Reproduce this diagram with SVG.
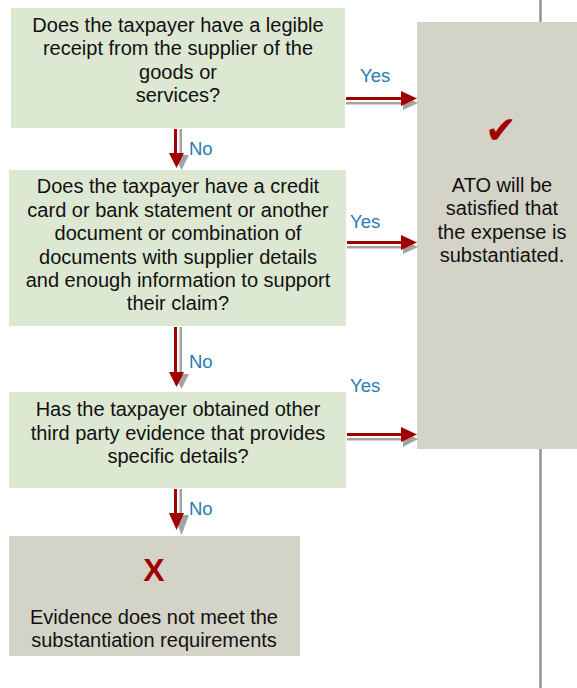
<svg xmlns="http://www.w3.org/2000/svg" width="577" height="688" viewBox="0 0 577 688">
<style>
.q{fill:#dde8d2}
.g{fill:#d4d3c7}
.t{font-family:"Liberation Sans",Arial,sans-serif;font-size:20px;fill:#111;text-anchor:middle}
.l{font-family:"Liberation Sans",Arial,sans-serif;font-size:18.5px;fill:#2b7bb3}
.red{fill:#a00000}
.sh{fill:#a3a3a3}
</style>
<rect x="0" y="0" width="577" height="688" fill="#fff"/>
<g id="divider">
<rect x="539" y="0" width="3" height="688" fill="#b0b0b0"/>
<rect x="540" y="0" width="1" height="688" fill="#909090"/>
</g>
<g id="outcome-yes">
<rect class="g" x="417" y="22" width="160" height="427"/>
<text x="501" y="143" font-family="DejaVu Sans,sans-serif" font-size="38" fill="#a00000" text-anchor="middle">✔</text>
<text class="t" x="502" y="192">ATO will be</text>
<text class="t" x="502" y="215">satisfied that</text>
<text class="t" x="502" y="239">the expense is</text>
<text class="t" x="502" y="262">substantiated.</text>
</g>
<g id="q1">
<rect class="q" x="11" y="8" width="334" height="120"/>
<text class="t" x="178" y="32">Does the taxpayer have a legible</text>
<text class="t" x="178" y="55">receipt from the supplier of the</text>
<text class="t" x="178" y="79">goods or</text>
<text class="t" x="178" y="102">services?</text>
</g>
<g id="q2">
<rect class="q" x="9" y="170" width="337" height="156"/>
<text class="t" x="178" y="193">Does the taxpayer have a credit</text>
<text class="t" x="178" y="217">card or bank statement or another</text>
<text class="t" x="178" y="240">document or combination of</text>
<text class="t" x="178" y="264">documents with supplier details</text>
<text class="t" x="178" y="287">and enough information to support</text>
<text class="t" x="178" y="310">their claim?</text>
</g>
<g id="q3">
<rect class="q" x="9" y="392" width="337" height="96"/>
<text class="t" x="178" y="416">Has the taxpayer obtained other</text>
<text class="t" x="178" y="440">third party evidence that provides</text>
<text class="t" x="178" y="463">specific details?</text>
</g>
<g id="outcome-no">
<rect class="g" x="9" y="536" width="291" height="120"/>
<text x="154" y="581" font-family="Liberation Sans,Arial,sans-serif" font-size="32" font-weight="bold" fill="#a00000" text-anchor="middle">X</text>
<text class="t" x="154" y="624">Evidence does not meet the</text>
<text class="t" x="154" y="647">substantiation requirements</text>
</g>
<g id="connectors">
<rect class="sh" x="179.5" y="129" width="2.5" height="28"/>
<polygon class="sh" points="174,155 189,155 181.5,170"/>
<rect class="red" x="174" y="129" width="3" height="25"/>
<polygon class="red" points="169,153 184,153 176.5,168"/>
<text class="l" x="189" y="155">No</text>
<rect class="sh" x="179.5" y="327" width="2.5" height="49"/>
<polygon class="sh" points="174,374 189,374 181.5,389"/>
<rect class="red" x="174" y="327" width="3" height="46"/>
<polygon class="red" points="169,372 184,372 176.5,387"/>
<text class="l" x="189" y="368">No</text>
<rect class="sh" x="179.5" y="489" width="2.5" height="28"/>
<polygon class="sh" points="174,515 189,515 181.5,535"/>
<rect class="red" x="174" y="489" width="3" height="25"/>
<polygon class="red" points="169,513 184,513 176.5,530"/>
<text class="l" x="189" y="515">No</text>
<rect class="sh" x="346" y="102" width="58" height="2.5"/>
<polygon class="sh" points="403,96 403,110 418,103"/>
<rect class="red" x="346" y="97" width="56" height="3"/>
<polygon class="red" points="401,91 401,106 417,98.5"/>
<text class="l" x="360" y="82">Yes</text>
<rect class="sh" x="347" y="246" width="58" height="2.5"/>
<polygon class="sh" points="403,240 403,254 418,247"/>
<rect class="red" x="347" y="241" width="56" height="3"/>
<polygon class="red" points="401,235 401,250 417,242.5"/>
<text class="l" x="350" y="228">Yes</text>
<rect class="sh" x="347" y="438" width="58" height="2.5"/>
<polygon class="sh" points="403,432 403,447 418,439"/>
<rect class="red" x="347" y="433" width="56" height="3"/>
<polygon class="red" points="401,427 401,442 417,434.5"/>
<text class="l" x="350" y="392">Yes</text>
</g>
</svg>
